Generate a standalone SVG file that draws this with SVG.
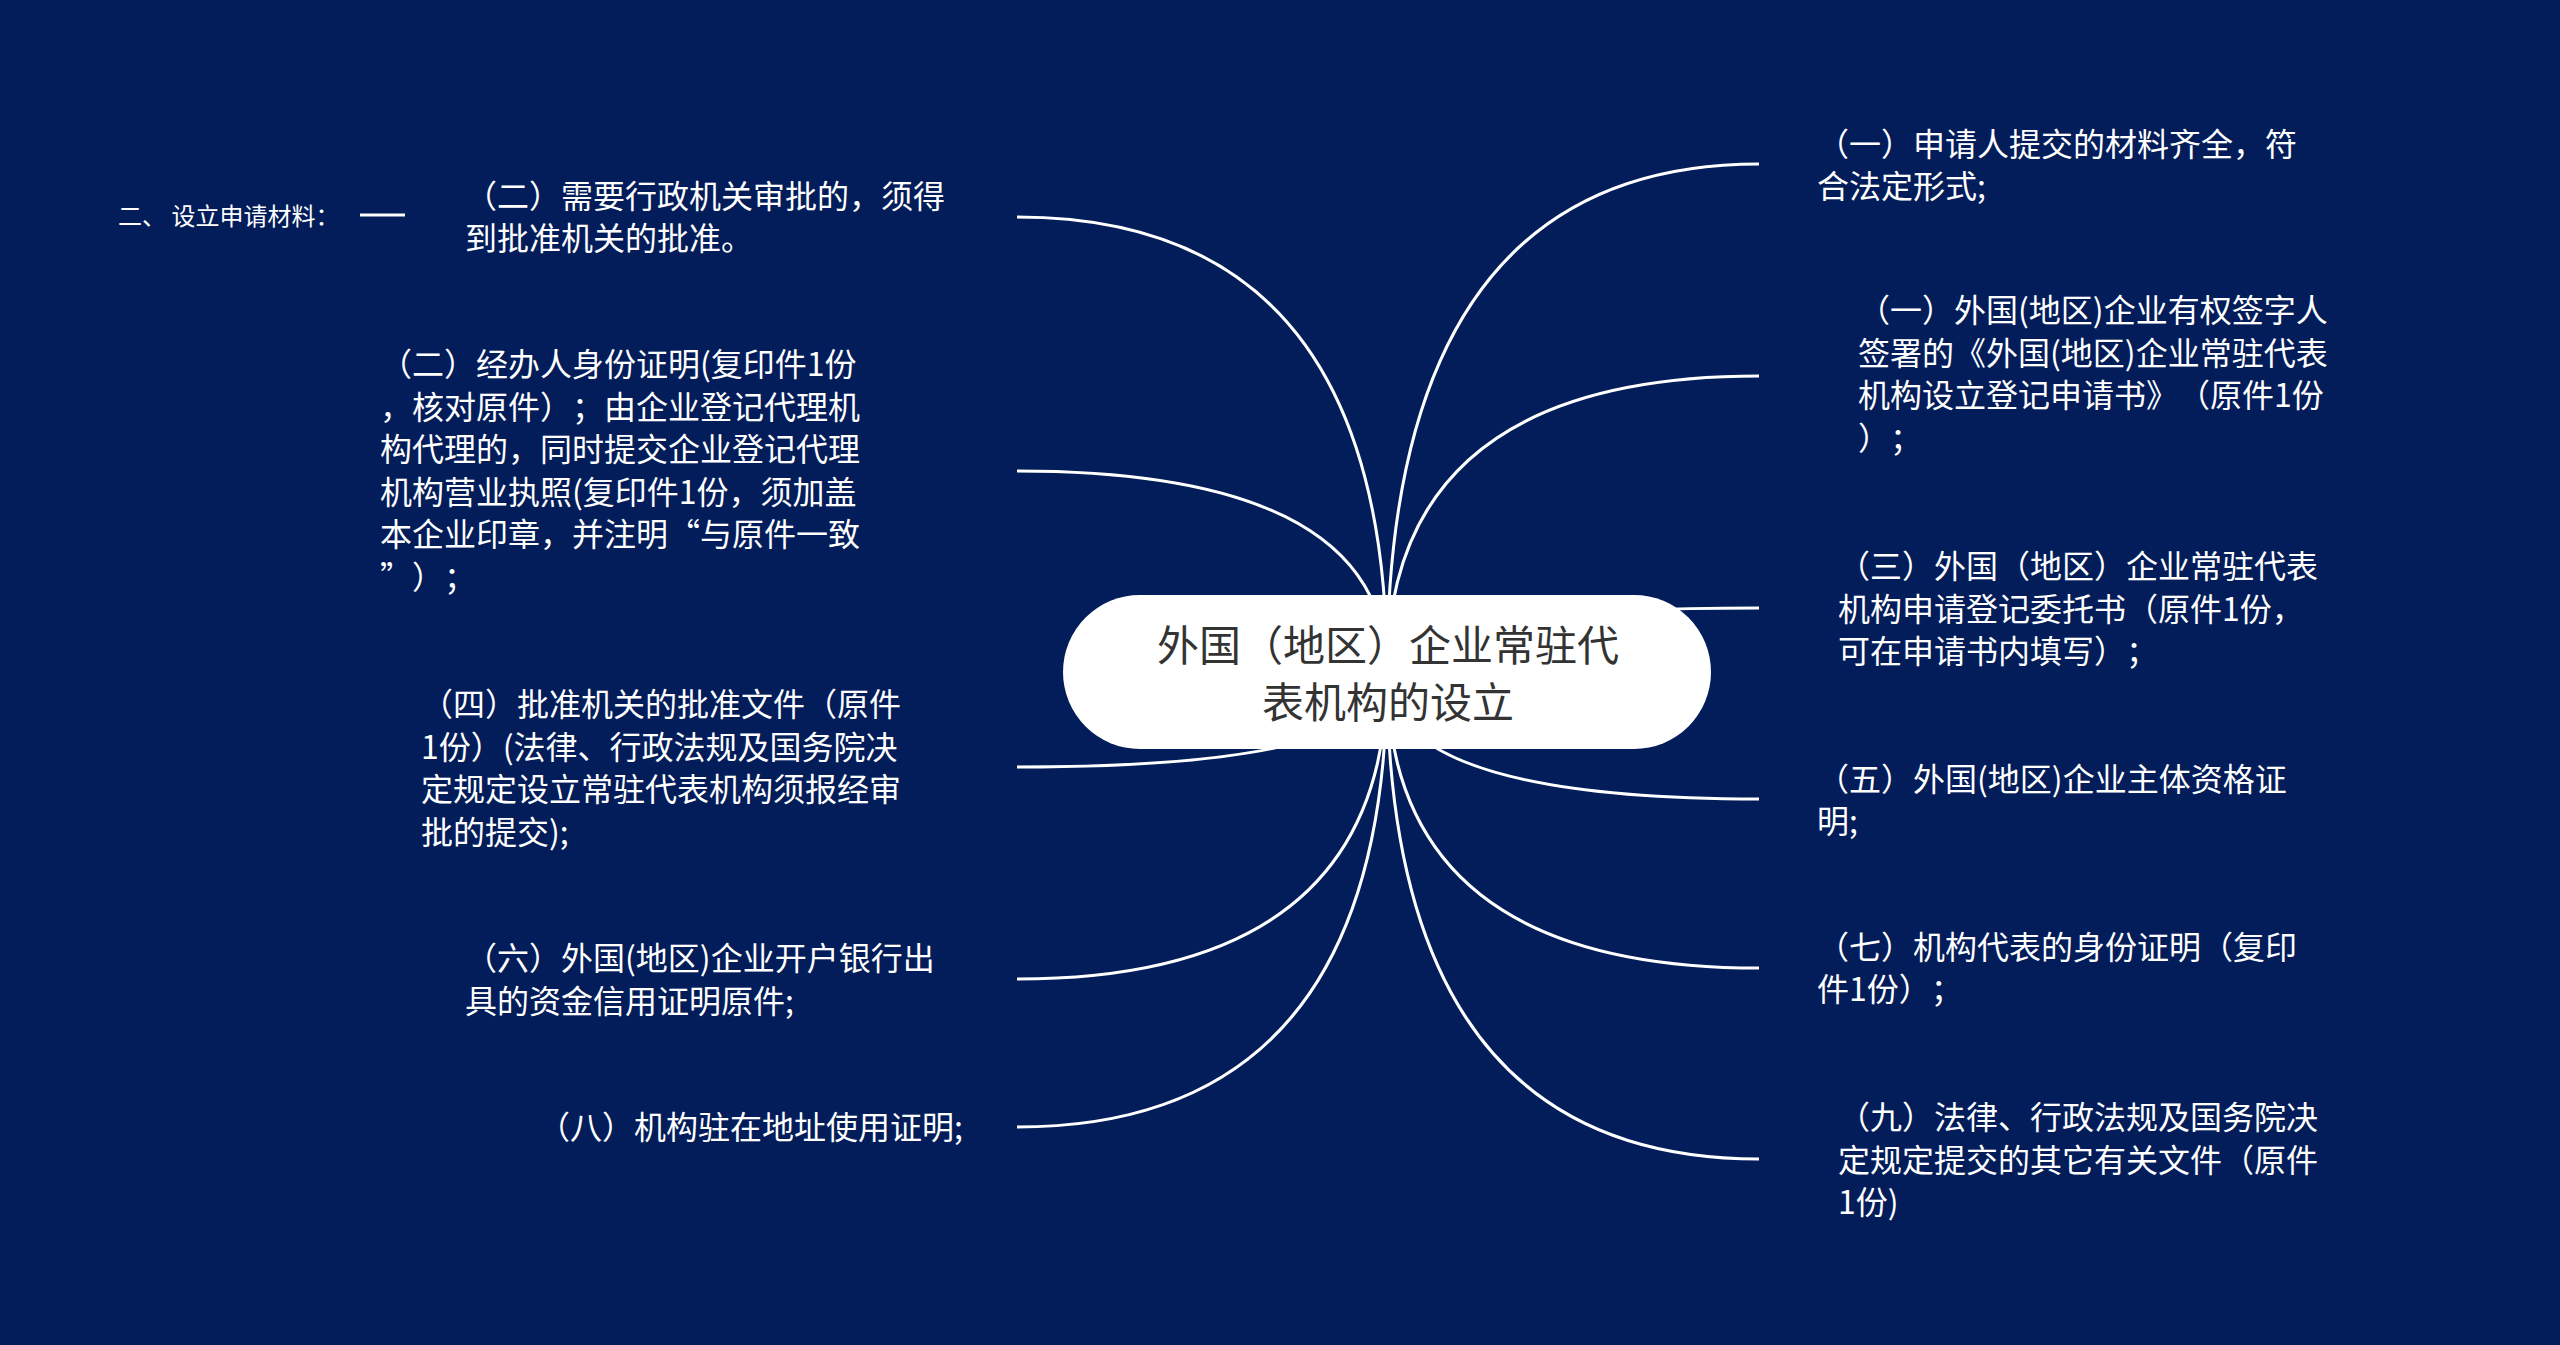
<svg xmlns="http://www.w3.org/2000/svg" width="2560" height="1345" viewBox="0 0 2560 1345">
<style>
.bg{fill:#021d59}
.conn{fill:none;stroke:#ffffff;stroke-width:3;stroke-linecap:butt}
text{text-spacing-trim:space-all}
.t{font-family:'Noto Sans CJK SC','Noto Sans',sans-serif;font-size:32px;fill:#ffffff}
.small{font-family:'Noto Sans CJK SC','Noto Sans',sans-serif;font-size:24px;fill:#ffffff}
.root-box{fill:#ffffff}
.root-t{font-family:'Noto Sans CJK SC','Noto Sans',sans-serif;font-size:42px;fill:#333333}
</style>
<rect class="bg" x="0" y="0" width="2560" height="1345"/>
<g id="connectors">
<path class="conn" d="M1387 673 Q1387 164 1759 164"/>
<path class="conn" d="M1387 673 Q1387 376 1759 376"/>
<path class="conn" d="M1387 673 Q1387 608 1759 608"/>
<path class="conn" d="M1387 673 Q1387 799 1759 799"/>
<path class="conn" d="M1387 673 Q1387 968 1759 968"/>
<path class="conn" d="M1387 673 Q1387 1159 1759 1159"/>
<path class="conn" d="M1387 673 Q1387 217 1017 217"/>
<path class="conn" d="M1387 673 Q1387 471 1017 471"/>
<path class="conn" d="M1387 673 Q1387 767 1017 767"/>
<path class="conn" d="M1387 673 Q1387 979 1017 979"/>
<path class="conn" d="M1387 673 Q1387 1127 1017 1127"/>
<line class="conn" x1="360" y1="215" x2="405" y2="215" stroke-width="4.5"/>
</g>
<g id="root">
<rect class="root-box" x="1063" y="595" width="648" height="154" rx="77" ry="77"/>
<text class="root-t" text-anchor="middle"><tspan x="1388" y="661">外国（地区）企业常驻代</tspan><tspan x="1388" y="718">表机构的设立</tspan></text>
</g>
<g id="node-r1">
<text class="t"><tspan x="1817" y="156">（一）申请人提交的材料齐全，符</tspan><tspan x="1817" y="198">合法定形式;</tspan></text>
</g>
<g id="node-r2">
<text class="t"><tspan x="1858" y="322">（一）外国(地区)企业有权签字人</tspan><tspan x="1858" y="364.5">签署的《外国(地区)企业常驻代表</tspan><tspan x="1858" y="407">机构设立登记申请书》（原件1份</tspan><tspan x="1858" y="449.5">）；</tspan></text>
</g>
<g id="node-r3">
<text class="t"><tspan x="1838" y="578">（三）外国（地区）企业常驻代表</tspan><tspan x="1838" y="620.5">机构申请登记委托书（原件1份，</tspan><tspan x="1838" y="663">可在申请书内填写）；</tspan></text>
</g>
<g id="node-r4">
<text class="t"><tspan x="1817" y="791">（五）外国(地区)企业主体资格证</tspan><tspan x="1817" y="833">明;</tspan></text>
</g>
<g id="node-r5">
<text class="t"><tspan x="1817" y="959">（七）机构代表的身份证明（复印</tspan><tspan x="1817" y="1001">件1份）；</tspan></text>
</g>
<g id="node-r6">
<text class="t"><tspan x="1838" y="1129">（九）法律、行政法规及国务院决</tspan><tspan x="1838" y="1171.5">定规定提交的其它有关文件（原件</tspan><tspan x="1838" y="1214">1份)</tspan></text>
</g>
<g id="node-l1">
<text class="t"><tspan x="465" y="208">（二）需要行政机关审批的，须得</tspan><tspan x="465" y="250">到批准机关的批准。</tspan></text>
</g>
<g id="node-l1-sub">
<text class="small" x="118" y="225">二、 设立申请材料：</text>
</g>
<g id="node-l2">
<text class="t"><tspan x="380" y="376">（二）经办人身份证明(复印件1份</tspan><tspan x="380" y="418.5">，核对原件）；由企业登记代理机</tspan><tspan x="380" y="461">构代理的，同时提交企业登记代理</tspan><tspan x="380" y="503.5">机构营业执照(复印件1份，须加盖</tspan><tspan x="380" y="546">本企业印章，并注明“与原件一致</tspan><tspan x="380" y="588.5">”）；</tspan></text>
</g>
<g id="node-l3">
<text class="t"><tspan x="421" y="716">（四）批准机关的批准文件（原件</tspan><tspan x="421" y="758.5">1份）(法律、行政法规及国务院决</tspan><tspan x="421" y="801">定规定设立常驻代表机构须报经审</tspan><tspan x="421" y="843.5">批的提交);</tspan></text>
</g>
<g id="node-l4">
<text class="t"><tspan x="465" y="970">（六）外国(地区)企业开户银行出</tspan><tspan x="465" y="1013">具的资金信用证明原件;</tspan></text>
</g>
<g id="node-l5">
<text class="t"><tspan x="538" y="1139">（八）机构驻在地址使用证明;</tspan></text>
</g>
</svg>
